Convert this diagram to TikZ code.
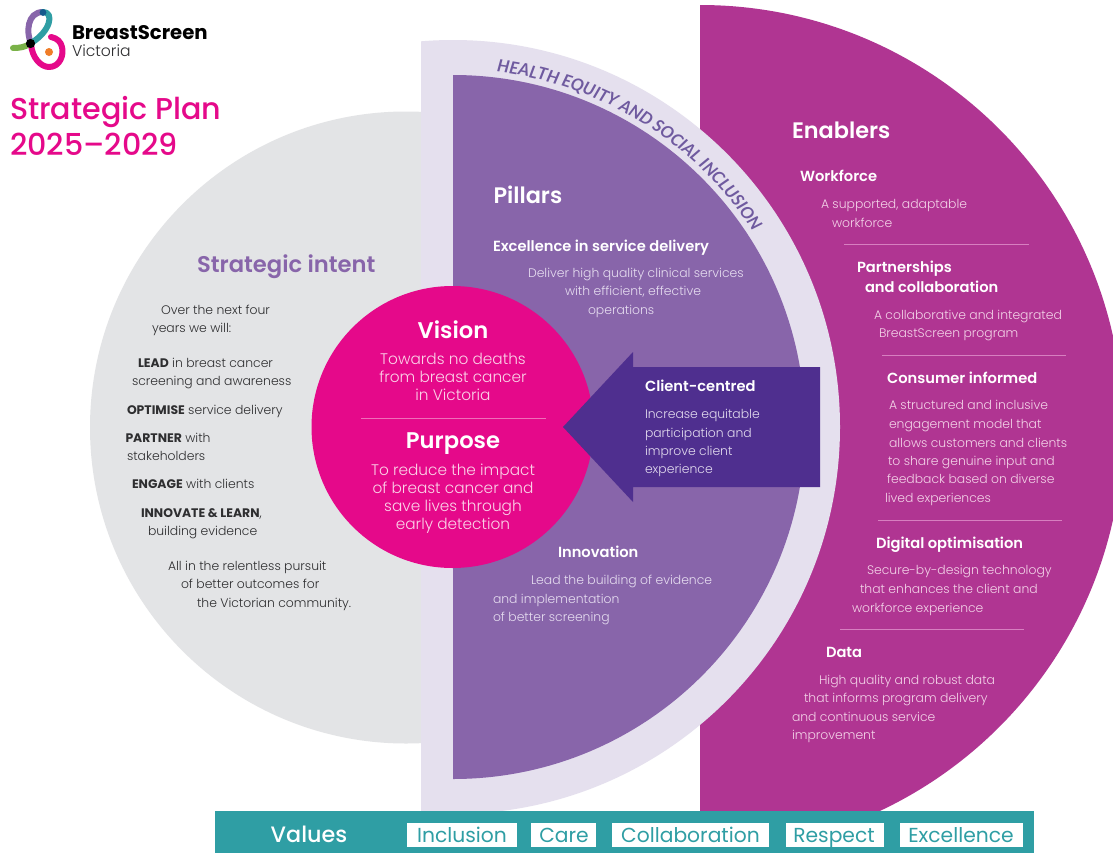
\documentclass[tikz,border=0pt]{standalone}
\usepackage{fontspec}
\setmainfont{Poppins}[UprightFont={Poppins Light},BoldFont={Poppins SemiBold}]
\newfontfamily\heavy{Poppins}[UprightFont={Poppins Bold}]
\newfontfamily\plainp{Poppins}[UprightFont={Poppins}]
\newfontfamily\medp{Poppins}[UprightFont={Poppins Medium}]
\newfontfamily\curve{Lato}[UprightFont={Lato Bold},ItalicFont={Lato Bold Italic}]
\usetikzlibrary{decorations.text}
\definecolor{pgray}{HTML}{E3E4E6}
\definecolor{plilac}{HTML}{E5E0EE}
\definecolor{ppurple}{HTML}{8865AA}
\definecolor{pcurve}{HTML}{6F5A9F}
\definecolor{pmag}{HTML}{B03592}
\definecolor{ppink}{HTML}{E5098A}
\definecolor{pdark}{HTML}{4F2F8F}
\definecolor{pteal}{HTML}{2F9EA4}
\definecolor{pgreen}{HTML}{7AB248}
\definecolor{pnavy}{HTML}{145A8C}
\definecolor{porange}{HTML}{F07D28}
\definecolor{onpurple}{HTML}{E6DDF0}
\definecolor{onmag}{HTML}{F3D3E8}
\definecolor{onpink}{HTML}{FBD3E8}
\definecolor{ondark}{HTML}{E3DCEF}
\definecolor{ink}{HTML}{2E2E30}
\definecolor{rulem}{HTML}{D77FC0}
\newcommand{\fs}[1]{\fontsize{#1}{#1}\selectfont}
\tikzset{
 x=0.75pt,y=-0.75pt,
 lbl/.style={inner sep=0pt,outer sep=0pt,anchor=base west},
 ctr/.style={inner sep=0pt,outer sep=0pt,anchor=base},
 bodyg/.style={lbl,text=ink,font=\fs{9.3}},
 bodyp/.style={lbl,text=onpurple,font=\fs{9.3}},
 bodym/.style={lbl,text=onmag,font=\fs{9.3}},
 bodyd/.style={lbl,text=ondark,font=\fs{9.3}},
 pinkt/.style={ctr,text=onpink,font=\fs{11.5}},
 pinkh/.style={ctr,text=white,font=\bfseries\fs{17}},
 hbig/.style={lbl,text=white,font=\bfseries\fs{16.8}},
 hsub/.style={lbl,text=white,font=\bfseries\fs{11}},
 valbox/.style={fill=white,draw=none},
 valtxt/.style={ctr,text=pteal,font=\plainp\fs{15.2}},
 logostroke/.style={line cap=round,line join=round,line width=4.5pt},
}
\begin{document}
\begin{tikzpicture}
\useasboundingbox (0,0) rectangle (1113,853);
\fill[white] (0,0) rectangle (1113,853);
% gray half disc
\begin{scope}\clip (0,0) rectangle (421,853);
\fill[pgray] (406,427.5) circle[radius=316];
\end{scope}
% magenta
\begin{scope}\clip (700,0) rectangle (1113,853);
\fill[pmag] (700,428) circle[radius=423];
\end{scope}
% lilac
\begin{scope}\clip (421,0) rectangle (1113,811);
\fill[plilac] (453,427) circle[radius=387];
\end{scope}
% purple
\begin{scope}\clip (453,0) rectangle (1113,853);
\fill[ppurple] (453,427) circle[radius=352];
\end{scope}
% pink circle
\fill[ppink] (452.5,427) circle[radius=141];
\draw[onpink,line width=0.4pt,opacity=.5] (361,418) -- (546,418);
% arrow
\fill[pdark] (563,427) -- (633,352) -- (633,367) -- (820,367) -- (820,487) -- (633,487) -- (633,502) -- cycle;
% curved text
\path[postaction={decorate,decoration={text along path,raise=0pt,
  text={|\curve\itshape\fs{12.7}\color{pcurve}|HEALTH EQUITY AND SOCIAL INCLUSION},text align={left}}}]
  (453,427) ++(-83:358) arc[start angle=-83,end angle=-28,radius=358];
% band
\fill[pteal] (215,811) rectangle (1034,853);
\node[ctr,text=white,font=\medp\fs{16.7}] (vals) at (309,842) {Values};
\fill[valbox] (407,823) rectangle (517,847);
\fill[valbox] (531,823) rectangle (596,847);
\fill[valbox] (612,823) rectangle (769,847);
\fill[valbox] (786,823) rectangle (884,847);
\fill[valbox] (900,823) rectangle (1023,847);
\node[valtxt] (v1) at (462,842) {Inclusion};
\node[valtxt] (v2) at (564,842) {Care};
\node[valtxt] (v3) at (690.5,842) {Collaboration};
\node[valtxt] (v4) at (834,842) {Respect};
\node[valtxt] (v5) at (961,842) {Excellence};
% logo
\draw[logostroke,pgreen] (13,48) .. controls (20,48) and (26,47) .. (31,43);
\draw[logostroke,ppurple] (31,43) .. controls (26,33) and (27,12) .. (43,12);
\draw[logostroke,pteal] (43,12) .. controls (55,12) and (50,32) .. (31,43);
\draw[logostroke,ppink] (31,44) .. controls (32,58) and (41,67) .. (49,67) .. controls (60,67) and (64,55) .. (62,47) .. controls (61,42) and (57,38) .. (51,37);
\fill[black] (30.5,43.5) circle[radius=4.6];
\fill[pnavy] (43,12.5) circle[radius=3.4];
\fill[porange] (49,52) circle[radius=4];
\node[lbl,text=black,font=\heavy\fs{14.75}] (brand) at (72,39) {BreastScreen};
\node[lbl,text=ink,font=\fs{11.7}] (vic) at (72,56) {Victoria};
% title
\node[lbl,text=ppink,font=\medp\fs{22.6}] (t1) at (10,119) {Strategic Plan};
\node[lbl,text=ppink,font=\medp\fs{22.6}] (t2) at (10,155) {2025–2029};
% strategic intent
\node[lbl,text=ppurple,font=\bfseries\fs{17}] (si) at (197,272) {Strategic intent};
\node[bodyg] (g1) at (161,314) {Over the next four};
\node[bodyg] (g2) at (152,332) {years we will:};
\node[bodyg] (g3) at (138,367) {{\heavy LEAD} in breast cancer};
\node[bodyg] (g4) at (132,385) {screening and awareness};
\node[bodyg] (g5) at (127,414) {{\heavy OPTIMISE} service delivery};
\node[bodyg] (g6) at (125.5,442) {{\heavy PARTNER} with};
\node[bodyg] (g7) at (127,460) {stakeholders};
\node[bodyg] (g8) at (132,488) {{\heavy ENGAGE} with clients};
\node[bodyg] (g9) at (141,517) {{\heavy INNOVATE \& LEARN},};
\node[bodyg] (g10) at (148,535) {building evidence};
\node[bodyg] (g11) at (168,570) {All in the relentless pursuit};
\node[bodyg] (g12) at (181,588) {of better outcomes for};
\node[bodyg] (g13) at (197,607) {the Victorian community.};
% vision purpose
\node[pinkh] (vis) at (453,338) {Vision};
\node[pinkt] (vis1) at (453,364) {Towards no deaths};
\node[pinkt] (vis2) at (453,382) {from breast cancer};
\node[pinkt] (vis3) at (453,400) {in Victoria};
\node[pinkh] (pur) at (453,448) {Purpose};
\node[pinkt] (pur1) at (453,475) {To reduce the impact};
\node[pinkt] (pur2) at (453,493) {of breast cancer and};
\node[pinkt] (pur3) at (453,511) {save lives through};
\node[pinkt] (pur4) at (453,529) {early detection};
% pillars
\node[hbig] (pil) at (493.5,203) {Pillars};
\node[hsub] (p1) at (493,251) {Excellence in service delivery};
\node[bodyp] (p2) at (528,277) {Deliver high quality clinical services};
\node[bodyp] (p3) at (565,295) {with efficient, effective};
\node[bodyp] (p4) at (588,314) {operations};
\node[hsub] (cc) at (645,391) {Client-centred};
\node[bodyd] (c1) at (645,418) {Increase equitable};
\node[bodyd] (c2) at (645,437) {participation and};
\node[bodyd] (c3) at (645,455) {improve client};
\node[bodyd] (c4) at (645,473) {experience};
\node[hsub] (inn) at (558,557) {Innovation};
\node[bodyp] (i1) at (531,584) {Lead the building of evidence};
\node[bodyp] (i2) at (493,603) {and implementation};
\node[bodyp] (i3) at (493,621) {of better screening};
% enablers
\node[hbig] (en) at (792,138) {Enablers};
\node[hsub] (e1) at (800,181) {Workforce};
\node[bodym] (e1a) at (821,208) {A supported, adaptable};
\node[bodym] (e1b) at (832,227) {workforce};
\draw[rulem,line width=0.6pt] (844,244) -- (1029,244);
\node[hsub] (e2) at (857,272) {Partnerships};
\node[hsub] (e2x) at (865,292) {and collaboration};
\node[bodym] (e2a) at (874,319) {A collaborative and integrated};
\node[bodym] (e2b) at (879,337) {BreastScreen program};
\draw[rulem,line width=0.6pt] (882,355) -- (1066,355);
\node[hsub] (e3) at (887,383) {Consumer informed};
\node[bodym] (e3a) at (889,409) {A structured and inclusive};
\node[bodym] (e3b) at (889,428) {engagement model that};
\node[bodym] (e3c) at (889,447) {allows customers and clients};
\node[bodym] (e3d) at (888,465) {to share genuine input and};
\node[bodym] (e3e) at (887,483) {feedback based on diverse};
\node[bodym] (e3f) at (885,502) {lived experiences};
\draw[rulem,line width=0.6pt] (878,520) -- (1062,520);
\node[hsub] (e4) at (876,548) {Digital optimisation};
\node[bodym] (e4a) at (867,574) {Secure-by-design technology};
\node[bodym] (e4b) at (860,593) {that enhances the client and};
\node[bodym] (e4c) at (852,612) {workforce experience};
\draw[rulem,line width=0.6pt] (840,629) -- (1024,629);
\node[hsub] (e5) at (826,657) {Data};
\node[bodym] (e5a) at (819,684) {High quality and robust data};
\node[bodym] (e5b) at (804,702) {that informs program delivery};
\node[bodym] (e5c) at (792,721) {and continuous service};
\node[bodym] (e5d) at (792,739) {improvement};
\end{tikzpicture}
\end{document}
